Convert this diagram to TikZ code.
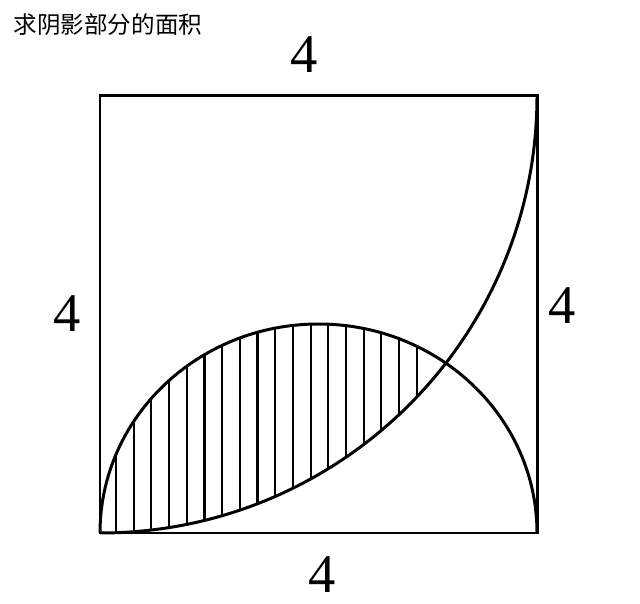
\documentclass[tikz,border=0pt]{standalone}
\usepackage{fontspec}
\setmainfont{Liberation Serif}
\newfontfamily\cjk{Noto Sans CJK SC}
\begin{document}
\begin{tikzpicture}[x=0.01cm,y=-0.01cm,
  outline/.style={line width=0.85pt, line join=miter},
  hatch/.style={line width=0.6pt},
  lbl/.style={font=\fontsize{15.5}{16}\selectfont, inner sep=0pt}]
\useasboundingbox (0,0) rectangle (640,604);
% hatching
\begin{scope}
  \clip (318.5,533) ellipse [x radius=218.5, y radius=209];
  \clip (100,96) circle [radius=437];
  \foreach \k in {0,...,17} {
    \draw[hatch] ({116+17.69*\k},300) -- ({116+17.69*\k},540);
  }
\end{scope}
% square
\draw[outline] (100,96) rectangle (537,533);
% quarter circle
\draw[outline] (100,533) arc[start angle=90, end angle=0, radius=437];
% semi ellipse
\draw[outline] (100,533) arc[start angle=180, end angle=360, x radius=218.5, y radius=209];
% labels
\node[lbl] (top) at (304,55) {4};
\node[lbl] (left) at (67,314) {4};
\node[lbl] (right) at (562,306) {4};
\node[lbl] (bottom) at (322,575) {4};
\node[anchor=west, inner sep=0pt, font=\cjk\fontsize{6.7}{7}\selectfont] (title) at (13,25) {求阴影部分的面积};
\end{tikzpicture}
\end{document}
